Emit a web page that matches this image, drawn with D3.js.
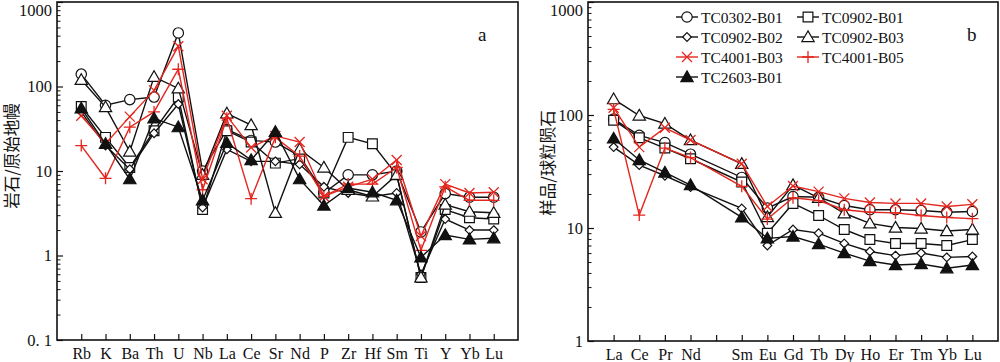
<!DOCTYPE html>
<html>
<head>
<meta charset="utf-8">
<script src="https://cdn.jsdelivr.net/npm/d3@7"></script>
<style>
	body { margin: 0; background: #fff; }
	svg text { font-family: "Liberation Serif", "Times New Roman", serif; fill: #111; }
	.cjk { font-family: "Noto Sans CJK SC", sans-serif; }
</style>
</head>
<body>
<svg id="chart" width="1000" height="362"></svg>
<script>

// ---- data ----

// panel a : primitive mantle normalised spidergram
const spiderElements = ["Rb","K","Ba","Th","U","Nb","La","Ce","Sr","Nd","P","Zr","Hf","Sm","Ti","Y","Yb","Lu"];
const spider_TC0302_B01 = [140, 60, 70, 75, 430, 10, 31, 23, 22, 15, 5.5, 9, 9, 10, 1.9, 5.4, 4.9, 4.9];
const spider_TC0902_B01 = [58, 25, 11, 30, 75, 3.5, 30, 22, 12.4, 14, 5.5, 25, 21, 9, 0.55, 3.5, 2.8, 2.7];
const spider_TC0902_B02 = [50, 20, 10.5, 28, 62, 3.7, 18, 13, 13, 12, 6.5, 5.5, 5, 5.5, 0.6, 2.7, 2.0, 2.0];
const spider_TC0902_B03 = [120, 57, 17, 130, 95, 9, 48, 35, 3.2, 18, 11, 6, 5, 9, 0.55, 4.0, 3.3, 3.2];
const spider_TC4001_B03 = [45, 21, 44, 90, 300, 8, 45, 19, 26, 22, 5, 6.5, 8, 13.5, 1.7, 7.0, 5.5, 5.6];
const spider_TC4001_B05 = [20, 8.2, 33, 50, 160, 6, 42, 4.7, 25, 15, 5, 7, 7, 11, 1.15, 6.5, 4.5, 4.5];
const spider_TC2603_B01 = [55, 21, 8, 42, 33, 4.5, 21.5, 13.5, 29, 8, 3.9, 6.3, 5.6, 4.5, 0.95, 1.75, 1.55, 1.6];

// panel b : chondrite normalised REE (Pm not analysed)
const reeElements = ["La","Ce","Pr","Nd","Pm","Sm","Eu","Gd","Tb","Dy","Ho","Er","Tm","Yb","Lu"];
const ree_TC0302_B01 = [92, 66, 57, 45, null, 28, 15, 19, 18.7, 15.8, 14.5, 14.5, 14.3, 13.8, 14];
const ree_TC0902_B01 = [90, 63, 51, 41, null, 25.5, 9, 16.5, 12.9, 9.7, 7.9, 7.3, 7.3, 7.0, 7.9];
const ree_TC0902_B02 = [52, 36, 29, 23, null, 14.9, 7, 9.7, 9, 7.3, 6.2, 5.7, 6.0, 5.5, 5.6];
const ree_TC0902_B03 = [138, 99, 84, 60, null, 37, 12.5, 24, 18.5, 13.5, 11, 10.1, 9.9, 9.4, 9.7];
const ree_TC4001_B03 = [116, 52, 77, 60, null, 37, 15.5, 23.5, 21, 18.3, 16.8, 16.5, 16.5, 15.5, 16.2];
const ree_TC4001_B05 = [112, 13, 51, 42, null, 23.4, 12, 18.5, 17.5, 14.5, 13.8, 13.6, 12.9, 12.4, 12.1];
const ree_TC2603_B01 = [62, 40, 31, 24, null, 12.4, 8.1, 8.4, 7.2, 6, 5.1, 4.7, 4.8, 4.4, 4.7];

const sampleNames = ["TC0302-B01","TC0902-B01","TC0902-B02","TC0902-B03","TC4001-B03","TC4001-B05","TC2603-B01"];
const sampleSymbols = ["circle","square","diamond","triangle","times","plus","triangleFilled"];

const spiderTicks = [0.1, 1, 10, 100, 1000];
const spiderTickLabels = ["0. 1", "1", "10", "100", "1000"];
const reeTicks = [1, 10, 100, 1000];
const reeTickLabels = ["1", "10", "100", "1000"];


const spiderSeries = [spider_TC0302_B01, spider_TC0902_B01, spider_TC0902_B02, spider_TC0902_B03, spider_TC4001_B03, spider_TC4001_B05, spider_TC2603_B01];
const reeSeries = [ree_TC0302_B01, ree_TC0902_B01, ree_TC0902_B02, ree_TC0902_B03, ree_TC4001_B03, ree_TC4001_B05, ree_TC2603_B01];

const RED = "#e3261f";
const BLACK = "#111";

function symbolColor(sym) {
	return (sym === "times" || sym === "plus") ? RED : BLACK;
}

// draw one marker into a group
function drawMarker(g, sym, x, y) {
	let col = symbolColor(sym);
	if (sym === "times") {
		let s = 5;
		g.append("path")
			.attr("d", `M${x-s},${y-s}L${x+s},${y+s}M${x-s},${y+s}L${x+s},${y-s}`)
			.attr("stroke", col).attr("stroke-width", 1.3).attr("fill", "none");
		return;
	}
	if (sym === "plus") {
		let s = 6;
		g.append("path")
			.attr("d", `M${x-s},${y}L${x+s},${y}M${x},${y-s}L${x},${y+s}`)
			.attr("stroke", col).attr("stroke-width", 1.3).attr("fill", "none");
		return;
	}
	let type, size;
	if (sym === "circle") { type = d3.symbolCircle; size = 85; }
	else if (sym === "square") { type = d3.symbolSquare; size = 95; }
	else if (sym === "diamond") { type = d3.symbolDiamond2; size = 48; }
	else { type = d3.symbolTriangle; size = 66; }
	g.append("path")
		.attr("d", d3.symbol().type(type).size(size)())
		.attr("transform", "translate(" + x + "," + (sym.startsWith("triangle") ? y + 1 : y) + ")")
		.attr("fill", sym === "triangleFilled" ? BLACK : "#fff")
		.attr("stroke", col)
		.attr("stroke-width", 1.2);
}


function drawPanel(svg, opt) {
	let x = d3.scalePoint()
		.domain(opt.elements)
		.range([opt.left, opt.right])
		.padding(1);

	let y = d3.scaleLog()
		.domain(opt.yDomain)
		.range([opt.bottom, opt.top]);

	let g = svg.append("g");

	// y axis : major ticks with labels, inside
	g.append("g")
		.attr("transform", "translate(" + opt.left + ",0)")
		.call(d3.axisLeft(y)
			.tickValues(opt.ticks)
			.tickSize(-6)
			.tickPadding(opt.yPad)
			.tickFormat((d, i) => opt.tickLabels[i]))
		.call(a => a.select(".domain").remove())
		.call(a => a.selectAll("line").attr("stroke", BLACK).attr("stroke-width", 1.2))
		.call(a => a.selectAll("text").attr("font-size", 16.5).style("font-family", "Liberation Serif"))
		// top label sits against the page edge, nudge it down so it stays whole
		.call(a => a.selectAll("text").filter(d => d === opt.yDomain[1]).attr("dy", "0.82em"));

	// minor ticks
	let minor = [];
	for (let dec = opt.yDomain[0]; dec < opt.yDomain[1]; dec *= 10) {
		for (let k = 2; k <= 9; k++) minor.push(dec * k);
	}
	g.append("g")
		.attr("transform", "translate(" + opt.left + ",0)")
		.call(d3.axisLeft(y).tickValues(minor).tickSize(-3.5).tickFormat(""))
		.call(a => a.select(".domain").remove())
		.call(a => a.selectAll("line").attr("stroke", BLACK).attr("stroke-width", 1));

	// x axis: ticks point up, element labels under
	g.append("g")
		.attr("transform", "translate(0," + opt.bottom + ")")
		.call(d3.axisBottom(x)
			.tickSize(-6)
			.tickPadding(8)
			.tickFormat(d => d === "Pm" ? "" : d))
		.call(a => a.select(".domain").remove())
		.call(a => a.selectAll("line").attr("stroke", BLACK).attr("stroke-width", 1.2))
		.call(a => a.selectAll("text").attr("font-size", 16).style("font-family", "Liberation Serif"));

	// frame
	g.append("rect")
		.attr("x", opt.left)
		.attr("y", opt.top)
		.attr("width", opt.right - opt.left)
		.attr("height", opt.bottom - opt.top)
		.attr("fill", "none")
		.attr("stroke", BLACK)
		.attr("stroke-width", 1.6);

	let line = d3.line()
		.x(d => x(d.el))
		.y(d => y(d.v));

	opt.series.forEach((vals, i) => {
		let sym = sampleSymbols[i];
		let pts = opt.elements.map((el, j) => ({el: el, v: vals[j]})).filter(d => d.v != null);
		let sg = g.append("g");
		sg.append("path")
			.datum(pts)
			.attr("d", line)
			.attr("fill", "none")
			.attr("stroke", symbolColor(sym))
			.attr("stroke-width", 1.4);
		pts.forEach(d => drawMarker(sg, sym, x(d.el), y(d.v)));
	});

	// panel letter
	g.append("text")
		.attr("x", opt.letterX)
		.attr("y", 41)
		.attr("font-size", 19)
		.text(opt.letter);

	// y title (rotated)
	g.append("text")
		.attr("class", "cjk")
		.attr("transform", "translate(" + opt.titleX + "," + opt.titleY + ") rotate(-90)")
		.attr("text-anchor", "middle")
		.attr("dominant-baseline", "central")
		.attr("font-size", 16.5)
		.text(opt.title);
}


let svg = d3.select("#chart");

drawPanel(svg, {
	elements: spiderElements,
	series: spiderSeries,
	left: 57, right: 518, top: 2, bottom: 340,
	yDomain: [0.1, 1000],
	ticks: spiderTicks,
	tickLabels: spiderTickLabels,
	yPad: 5,
	letter: "a", letterX: 478,
	title: "岩石/原始地幔", titleX: 11, titleY: 156
});

drawPanel(svg, {
	elements: reeElements,
	series: reeSeries,
	left: 588, right: 998, top: 2, bottom: 341,
	yDomain: [1, 1000],
	ticks: reeTicks,
	tickLabels: reeTickLabels,
	yPad: 5,
	letter: "b", letterX: 967,
	title: "样品/球粒陨石", titleX: 547, titleY: 163
});

// legend in panel b, two columns
let legend = svg.append("g");
sampleNames.forEach((name, i) => {
	let col = i % 2;
	let row = Math.floor(i / 2);
	let lx = col === 0 ? 676 : 797;
	let ly = 17 + row * 20;
	let sym = sampleSymbols[i];
	legend.append("line")
		.attr("x1", lx).attr("x2", lx + 22)
		.attr("y1", ly).attr("y2", ly)
		.attr("stroke", symbolColor(sym))
		.attr("stroke-width", 1.4);
	drawMarker(legend, sym, lx + 11, ly);
	legend.append("text")
		.attr("x", lx + 25)
		.attr("y", ly + 5.5)
		.attr("font-size", 15.5)
		.text(name);
});

</script>
</body>
</html>
